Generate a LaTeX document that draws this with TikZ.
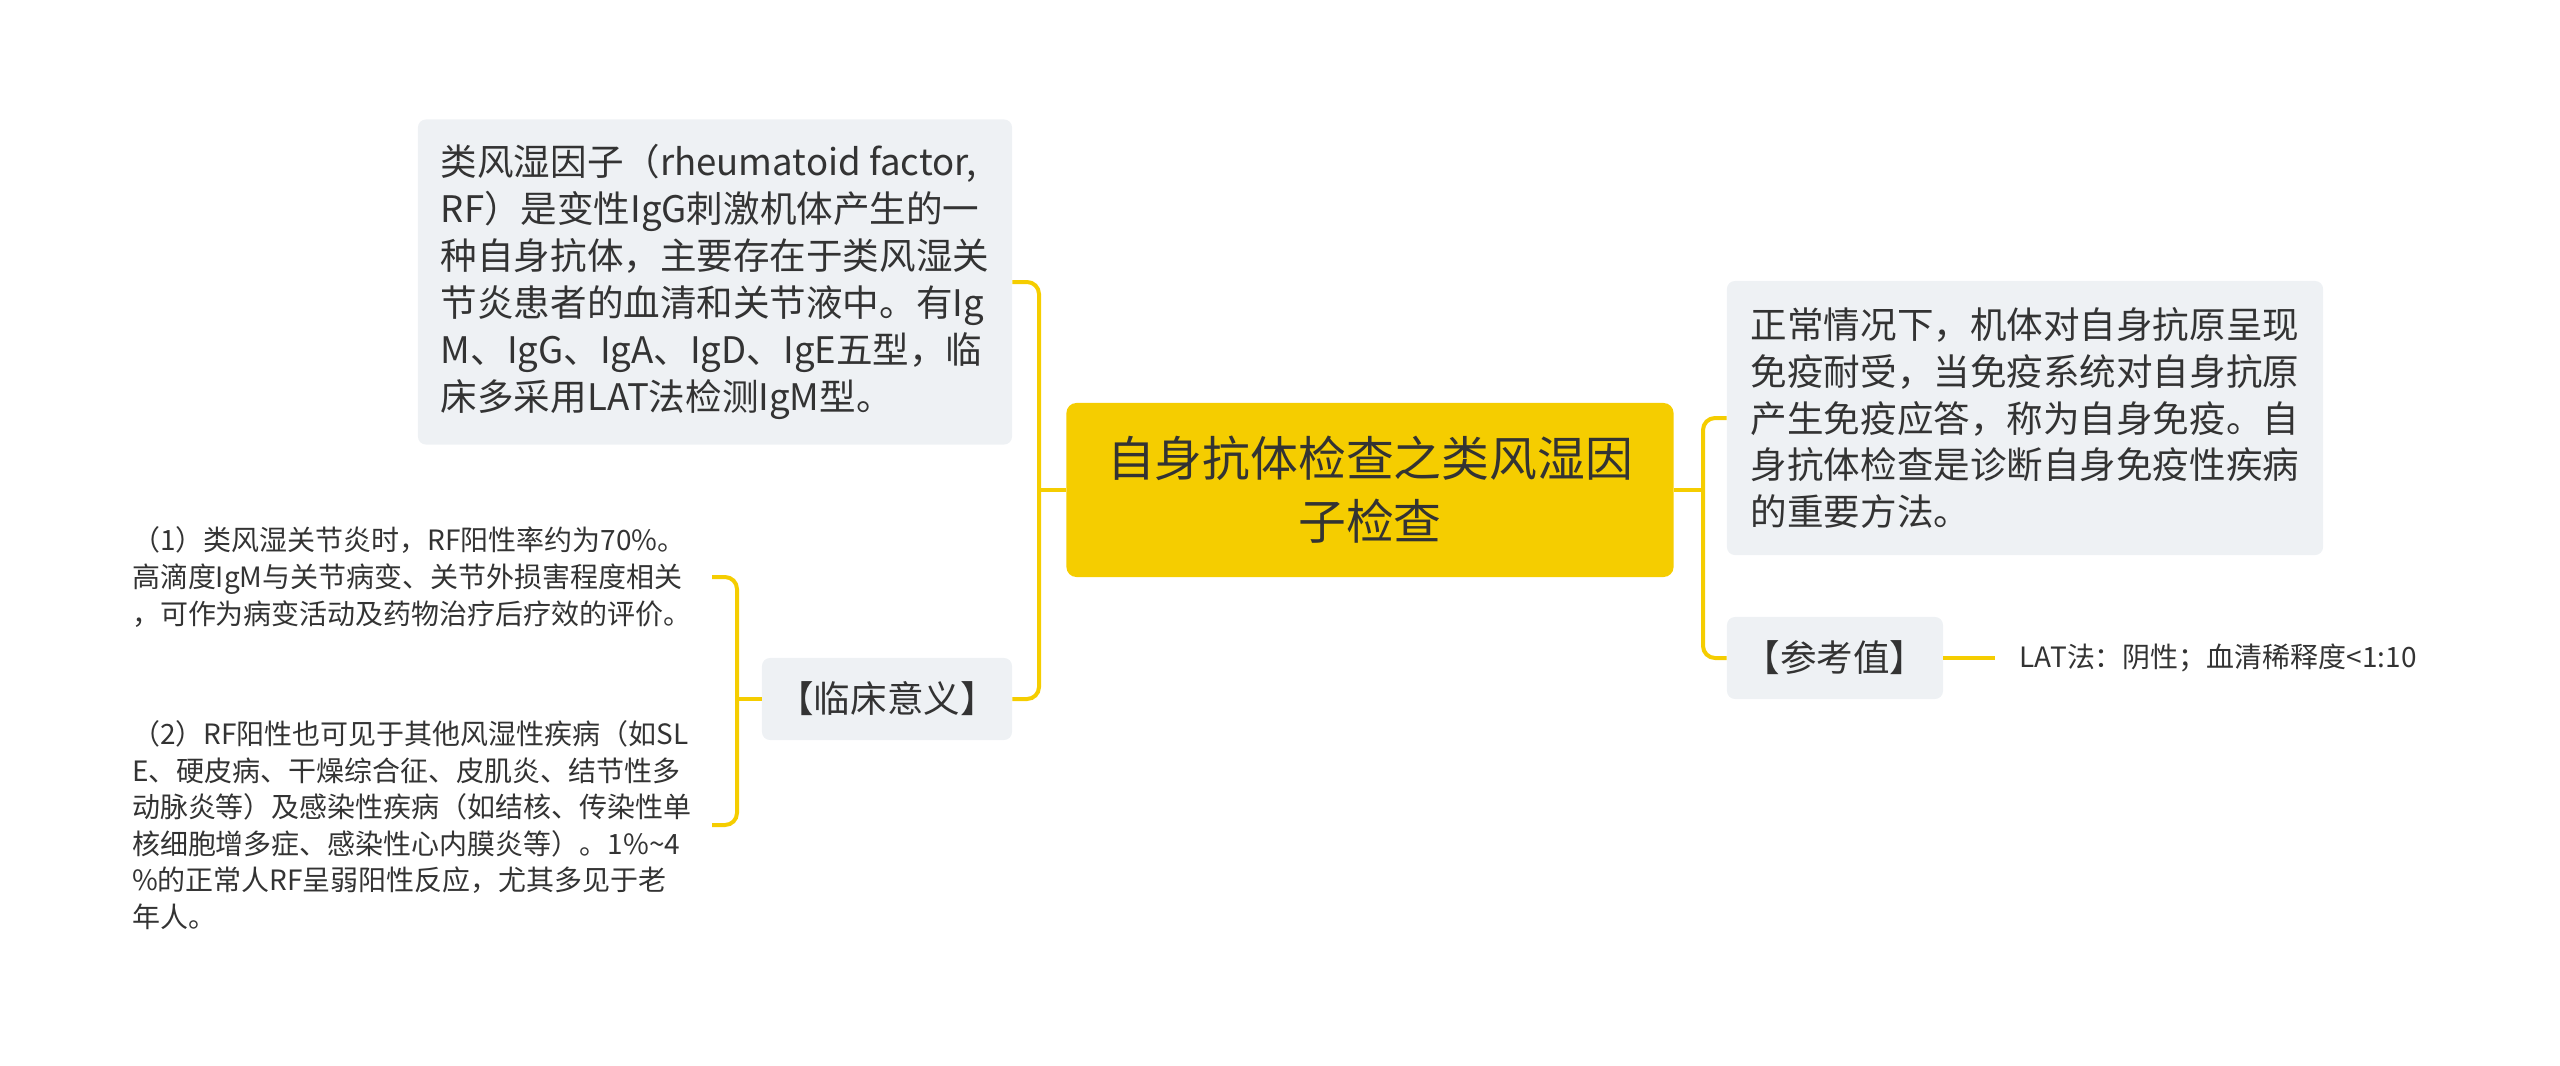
\documentclass[tikz,border=0pt]{standalone}
\usepackage{fontspec}
\setmainfont{Noto Sans CJK SC}
\usetikzlibrary{positioning}
\definecolor{mapyellow}{HTML}{F5CD00}
\definecolor{boxgray}{HTML}{EEF1F4}
\definecolor{inkgray}{HTML}{333333}
\tikzset{
    rootbox/.style={rectangle, rounded corners=0.25cm, fill=mapyellow, text=inkgray, align=center,
        minimum width=15.175cm, minimum height=4.35cm, font=\fontsize{34}{44.8}\selectfont},
    infobox/.style={rectangle, rounded corners=0.2cm, fill=boxgray, text=inkgray, align=left,
        font=\fontsize{26}{33.4}\selectfont},
    tagbox/.style={rectangle, rounded corners=0.2cm, fill=boxgray, text=inkgray,
        minimum height=2.05cm, font=\fontsize{26}{30}\selectfont},
    leaf/.style={text=inkgray, align=left, inner xsep=0.5cm, font=\fontsize{19.9}{26}\selectfont},
    link/.style={draw=mapyellow, line width=1mm, rounded corners=0.3cm},
}

\begin{document}
\begin{tikzpicture}[x=0.025cm, y=-0.025cm]

    \useasboundingbox (0,0) rectangle (2560,1066);

    % Root
    \node[rootbox] (root) at (1370,490) {自身抗体检查之类风湿因\\子检查};

    % Left side
    \node[infobox, minimum width=14.85cm, minimum height=8.125cm] (def) at (715,282)
        {类风湿因子（rheumatoid factor,\\RF）是变性IgG刺激机体产生的一\\种自身抗体，主要存在于类风湿关\\节炎患者的血清和关节液中。有Ig\\M、IgG、IgA、IgD、IgE五型，临\\床多采用LAT法检测IgM型。};
    \node[tagbox, minimum width=6.25cm] (clin) at (887,699) {【临床意义】};
    \node[leaf, anchor=east] (leafa) at (712,577)
        {（1）类风湿关节炎时，RF阳性率约为70\%。\\高滴度IgM与关节病变、关节外损害程度相关\\，可作为病变活动及药物治疗后疗效的评价。};
    \node[leaf, anchor=east] (leafb) at (712,825)
        {（2）RF阳性也可见于其他风湿性疾病（如SL\\E、硬皮病、干燥综合征、皮肌炎、结节性多\\动脉炎等）及感染性疾病（如结核、传染性单\\核细胞增多症、感染性心内膜炎等）。1\%\textasciitilde4\\\%的正常人RF呈弱阳性反应，尤其多见于老\\年人。};

    % Right side
    \node[infobox, minimum width=14.9cm, minimum height=6.85cm] (norm) at (2025,418)
        {正常情况下，机体对自身抗原呈现\\免疫耐受，当免疫系统对自身抗原\\产生免疫应答，称为自身免疫。自\\身抗体检查是诊断自身免疫性疾病\\的重要方法。};
    \node[tagbox, minimum width=5.4cm] (ref) at (1835,658) {【参考值】};
    \node[leaf, inner xsep=0.6cm, right=1.3cm of ref] (lat) {LAT法：阴性；血清稀释度<1:10};

    % Connectors
    \coordinate (lj) at (1039,490);
    \coordinate (rj) at (1703,490);
    \coordinate (cj) at (737,699);
    \draw[link] (def.east) -| (lj) |- (clin.east);
    \draw[link] (root.west) -- (lj);
    \draw[link] (norm.west) -| (rj) |- (ref.west);
    \draw[link] (root.east) -- (rj);
    \draw[link] (leafa.east) -| (cj) |- (leafb.east);
    \draw[link] (clin.west) -- (cj);
    \draw[link] (ref.east) -- (lat.west);

\end{tikzpicture}
\end{document}
